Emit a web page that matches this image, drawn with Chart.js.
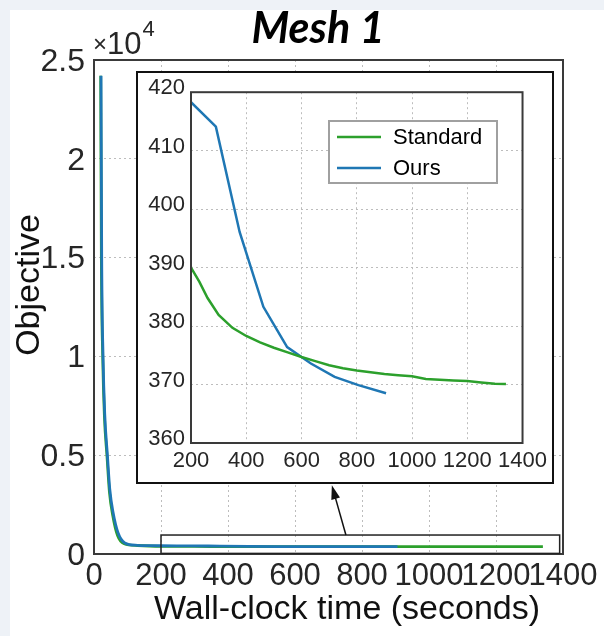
<!DOCTYPE html>
<html><head><meta charset="utf-8">
<script src="https://cdn.jsdelivr.net/npm/chart.js@4.4.1/dist/chart.umd.min.js"></script>
<style>
html,body{margin:0;padding:0;background:#eef2f7;width:604px;height:636px;overflow:hidden;}
#paper{position:absolute;left:10px;top:10px;width:594px;height:626px;background:#fff;}
#main{position:absolute;left:0;top:0;}
#insetBox{position:absolute;left:136px;top:71px;width:418px;height:413px;box-sizing:border-box;border:2px solid #111;background:#fff;}
#inset{position:absolute;left:0;top:0;}
</style></head><body>
<div id="paper"></div>
<canvas id="main" width="604" height="636"></canvas>
<div id="insetBox"><canvas id="inset" width="414" height="409"></canvas></div>
<script>
// ---- data ----
const seriesNames = ['Standard', 'Ours'];
const standardTime = [20, 22, 26, 31, 39, 46, 56, 70, 90, 130, 165, 200, 230, 260, 300, 350, 400, 450, 500, 550, 600, 650, 700, 750, 800, 850, 900, 950, 1000, 1050, 1100, 1150, 1200, 1250, 1300, 1340];
const standardObjective = [24200, 15000, 10000, 7000, 4900, 3150, 1950, 950, 520, 430, 405, 390, 387.6, 384.8, 381.9, 379.7, 378.3, 377.2, 376.3, 375.5, 374.7, 374.0, 373.3, 372.8, 372.4, 372.1, 371.8, 371.6, 371.4, 370.95, 370.8, 370.7, 370.6, 370.35, 370.15, 370.1];
const oursTime = [21, 23, 27, 32, 40, 47, 57, 72, 92, 130, 165, 200, 290, 376, 462, 548, 634, 720, 806, 906];
const oursObjective = [24200, 15000, 10000, 7100, 5000, 3300, 2100, 1060, 560, 440, 425, 418.3, 414.1, 396.1, 383.3, 376.4, 373.6, 371.3, 369.9, 368.5];
const mainXTicks = [0, 200, 400, 600, 800, 1000, 1200, 1400];
const mainXTickLabels = ['0', '200', '400', '600', '800', '1000', '1200', '1400'];
const mainYTicks = [0, 5000, 10000, 15000, 20000, 25000];
const mainYTickLabels = ['0', '0.5', '1', '1.5', '2', '2.5'];
const insetXTicks = [200, 400, 600, 800, 1000, 1200, 1400];
const insetXTickLabels = ['200', '400', '600', '800', '1000', '1200', '1400'];
const insetYTicks = [360, 370, 380, 390, 400, 410, 420];
const insetYTickLabels = ['360', '370', '380', '390', '400', '410', '420'];
const zoomBox = {x0: 200, x1: 1390, y0: 30, y1: 960};
const arrowFrom = {x: 752, y: 960};
const arrowTo = {x: 710, y: 3480};

const GREEN = '#2ca02c', BLUE = '#1f77b4';
const FONT = '"Liberation Sans", Arial, sans-serif';

function pts(xs, ys) { return xs.map((x, i) => ({x: x, y: ys[i]})); }
function labelFrom(values, labels) { return (v) => { const i = values.indexOf(v); return i < 0 ? '' : labels[i]; }; }

// ---- main chart ----
const mainPlugin = {
  id: 'mainDeco',
  afterDraw(chart) {
    const {ctx, chartArea: a, scales: {x, y}} = chart;
    ctx.save();
    // frame
    ctx.strokeStyle = '#3a3a3a'; ctx.lineWidth = 2;
    ctx.strokeRect(a.left, a.top, a.right - a.left, a.bottom - a.top);
    // zoom box
    ctx.strokeStyle = '#222'; ctx.lineWidth = 1.5;
    const bx0 = x.getPixelForValue(zoomBox.x0), bx1 = x.getPixelForValue(zoomBox.x1);
    const by0 = y.getPixelForValue(zoomBox.y0), by1 = y.getPixelForValue(zoomBox.y1);
    ctx.strokeRect(bx0, by1, bx1 - bx0, by0 - by1);
    // arrow
    const ax0 = x.getPixelForValue(arrowFrom.x), ay0 = y.getPixelForValue(arrowFrom.y);
    const ax1 = x.getPixelForValue(arrowTo.x), ay1 = y.getPixelForValue(arrowTo.y);
    const ang = Math.atan2(ay1 - ay0, ax1 - ax0);
    ctx.strokeStyle = '#111'; ctx.fillStyle = '#111'; ctx.lineWidth = 1.5;
    ctx.beginPath(); ctx.moveTo(ax0, ay0);
    ctx.lineTo(ax1 - 10 * Math.cos(ang), ay1 - 10 * Math.sin(ang)); ctx.stroke();
    ctx.beginPath(); ctx.moveTo(ax1, ay1);
    ctx.lineTo(ax1 - 14 * Math.cos(ang) + 4.5 * Math.sin(ang), ay1 - 14 * Math.sin(ang) - 4.5 * Math.cos(ang));
    ctx.lineTo(ax1 - 14 * Math.cos(ang) - 4.5 * Math.sin(ang), ay1 - 14 * Math.sin(ang) + 4.5 * Math.cos(ang));
    ctx.closePath(); ctx.fill();
    // title
    ctx.fillStyle = '#000';
    ctx.font = 'bold italic 43px Lato, "Open Sans", sans-serif';
    ctx.textAlign = 'center'; ctx.textBaseline = 'alphabetic';
    ctx.fillText('Mesh 1', 318, 43);
    // exponent
    ctx.fillStyle = '#262626';
    ctx.textAlign = 'left';
    ctx.font = '24px ' + FONT;
    ctx.fillText('\u00d7', 93, 52);
    const wx = ctx.measureText('\u00d7').width;
    ctx.font = '31px ' + FONT;
    ctx.fillText('10', 93 + wx, 54);
    const w10 = ctx.measureText('10').width;
    ctx.font = '22px ' + FONT;
    ctx.fillText('4', 93 + wx + w10 + 1, 36);
    // axis titles
    ctx.fillStyle = '#111';
    ctx.font = '34px ' + FONT;
    ctx.textAlign = 'center'; ctx.textBaseline = 'middle';
    ctx.fillText('Wall-clock time (seconds)', 347, 610);
    ctx.translate(30, 285); ctx.rotate(-Math.PI / 2);
    ctx.fillText('Objective', 0, 0);
    ctx.restore();
  }
};

new Chart(document.getElementById('main'), {
  type: 'line',
  data: {
    datasets: [
      {label: seriesNames[0], data: pts(standardTime, standardObjective), borderColor: GREEN, borderWidth: 2.8, pointRadius: 0, cubicInterpolationMode: 'monotone', order: 1},
      {label: seriesNames[1], data: pts(oursTime, oursObjective), borderColor: BLUE, borderWidth: 2.8, pointRadius: 0, cubicInterpolationMode: 'monotone', order: 0}
    ]
  },
  options: {
    responsive: false, animation: false, events: [],
    layout: {padding: {left: 0, top: 60, right: 41, bottom: 0}},
    plugins: {legend: {display: false}, tooltip: {enabled: false}},
    scales: {
      x: {
        type: 'linear', min: 0, max: 1400,
        afterBuildTicks: s => { s.ticks = mainXTicks.map(v => ({value: v})); },
        afterFit: s => { s.height = 82; },
        ticks: {font: {family: FONT, size: 31}, color: '#262626', padding: 4, autoSkip: false, maxRotation: 0, minRotation: 0,
          callback: labelFrom(mainXTicks, mainXTickLabels)},
        grid: {color: '#bdbdbd', lineWidth: 1, drawTicks: false},
        border: {display: false, dash: [2, 3]}
      },
      y: {
        type: 'linear', min: 0, max: 25000,
        afterBuildTicks: s => { s.ticks = mainYTicks.map(v => ({value: v})); },
        afterFit: s => { s.width = 94; },
        ticks: {font: {family: FONT, size: 32}, color: '#262626', padding: 9, labelOffset: 2,
          callback: labelFrom(mainYTicks, mainYTickLabels)},
        grid: {color: '#bdbdbd', lineWidth: 1, drawTicks: false},
        border: {display: false, dash: [2, 3]}
      }
    }
  },
  plugins: [mainPlugin]
});

// ---- inset chart ----
const insetPlugin = {
  id: 'insetDeco',
  afterDraw(chart) {
    const {ctx, chartArea: a} = chart;
    ctx.save();
    ctx.strokeStyle = '#3a3a3a'; ctx.lineWidth = 2;
    ctx.strokeRect(a.left, a.top, a.right - a.left, a.bottom - a.top);
    // legend
    const lx = 191, ly = 48, lw = 168, lh = 62;
    ctx.fillStyle = '#fff';
    ctx.fillRect(lx, ly, lw, lh);
    ctx.strokeStyle = '#a0a0a0'; ctx.lineWidth = 2;
    ctx.strokeRect(lx, ly, lw, lh);
    ctx.font = '22px ' + FONT; ctx.textAlign = 'left'; ctx.textBaseline = 'middle';
    chart.data.datasets.forEach((ds, i) => {
      const yy = ly + 16 + i * 31;
      ctx.strokeStyle = ds.borderColor; ctx.lineWidth = 2.5;
      ctx.beginPath(); ctx.moveTo(lx + 8, yy); ctx.lineTo(lx + 52, yy); ctx.stroke();
      ctx.fillStyle = '#000';
      ctx.fillText(ds.label, lx + 64, yy + 1);
    });
    ctx.restore();
  }
};

new Chart(document.getElementById('inset'), {
  type: 'line',
  data: {
    datasets: [
      {label: seriesNames[0], data: pts(standardTime, standardObjective), borderColor: GREEN, borderWidth: 2.5, pointRadius: 0, tension: 0},
      {label: seriesNames[1], data: pts(oursTime, oursObjective), borderColor: BLUE, borderWidth: 2.5, pointRadius: 0, tension: 0}
    ]
  },
  options: {
    responsive: false, animation: false, events: [],
    layout: {padding: {left: 0, top: 19, right: 26, bottom: 0}},
    plugins: {legend: {display: false}, tooltip: {enabled: false}},
    scales: {
      x: {
        type: 'linear', min: 200, max: 1400,
        afterBuildTicks: s => { s.ticks = insetXTicks.map(v => ({value: v})); },
        afterFit: s => { s.height = 39; },
        ticks: {font: {family: FONT, size: 22}, color: '#262626', padding: 5, autoSkip: false, maxRotation: 0, minRotation: 0,
          callback: labelFrom(insetXTicks, insetXTickLabels)},
        grid: {color: '#bdbdbd', lineWidth: 1, drawTicks: false},
        border: {display: false, dash: [2, 3]}
      },
      y: {
        type: 'linear', min: 360, max: 420,
        afterBuildTicks: s => { s.ticks = insetYTicks.map(v => ({value: v})); },
        afterFit: s => { s.width = 53; },
        ticks: {font: {family: FONT, size: 22}, color: '#262626', padding: 6, labelOffset: -4,
          callback: labelFrom(insetYTicks, insetYTickLabels)},
        grid: {color: '#bdbdbd', lineWidth: 1, drawTicks: false},
        border: {display: false, dash: [2, 3]}
      }
    }
  },
  plugins: [insetPlugin]
});
</script>
</body></html>
